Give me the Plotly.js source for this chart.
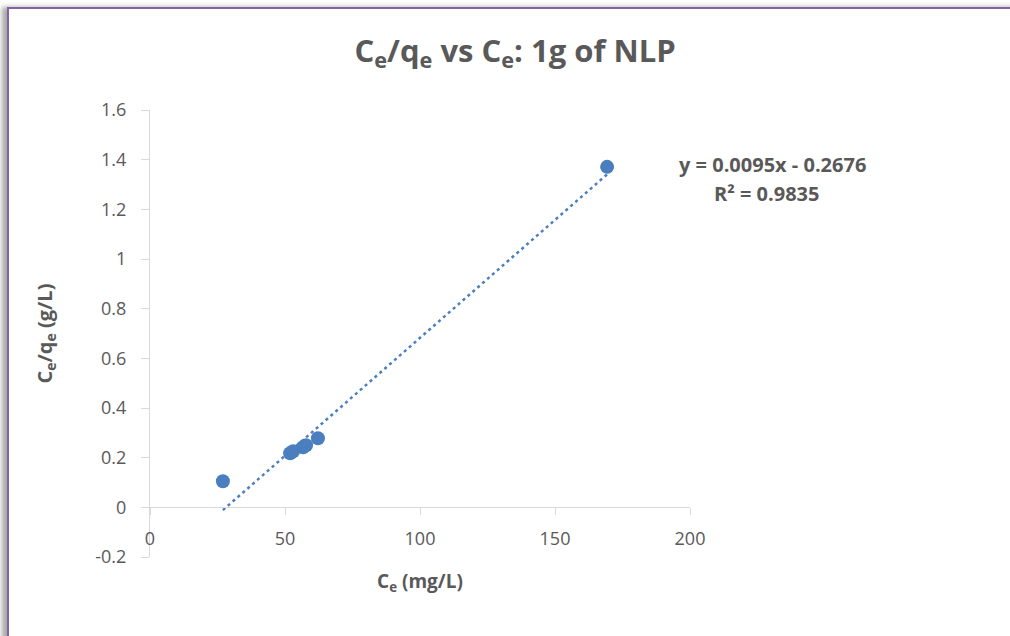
<!DOCTYPE html>
<html>
<head>
<meta charset="utf-8">
<script src="https://cdn.plot.ly/plotly-3.0.1.min.js"></script>
<style>
  html, body { margin: 0; padding: 0; background: #ffffff; }
  #frame { position: absolute; left: 7px; top: 7px; width: 1100px; height: 700px;
           border-top: 2px solid #8064a2; border-left: 2px solid #8064a2;
           box-shadow: -5px 0px 5px rgba(0,0,0,0.35); background: #ffffff; }
  #chart { position: absolute; left: 0; top: 0; width: 1010px; height: 636px; }
</style>
</head>
<body>
<div id="frame"></div>
<div id="chart"></div>
<script>
// Data
const ce   = [27.0, 51.9, 53.0, 56.7, 57.8, 62.2, 169.3];      // Ce (mg/L)
const ceqe = [0.105, 0.218, 0.226, 0.242, 0.250, 0.278, 1.371]; // Ce/qe (g/L)
// Trendline coefficients as printed on the chart
const slope = 0.0095;
const intercept = -0.2676;
const r2 = 0.9835;
const xTicks = [0, 50, 100, 150, 200];
const yTicks = [-0.2, 0, 0.2, 0.4, 0.6, 0.8, 1, 1.2, 1.4, 1.6];

const xMin = Math.min(...ce), xMax = Math.max(...ce);
const trendX = [xMin, xMax];
const trendY = trendX.map(x => slope * x + intercept);

const blue = '#4a7ebf';
const gray = '#595959';
const axisGray = '#d9d9d9';
const font = '"Open Sans", Lato, sans-serif';

const traces = [
  { x: trendX, y: trendY, type: 'scatter', mode: 'lines',
    line: { color: blue, width: 2.5, dash: '3px,3.5px' }, hoverinfo: 'skip', showlegend: false },
  { x: ce, y: ceqe, type: 'scatter', mode: 'markers',
    marker: { color: blue, size: 14 }, showlegend: false }
];

const layout = {
  width: 1010, height: 636,
  paper_bgcolor: 'rgba(0,0,0,0)', plot_bgcolor: 'rgba(0,0,0,0)',
  margin: { l: 150, r: 320, t: 110, b: 79 },
  font: { family: font, color: gray, size: 18 },
  title: { text: '<b>C<sub>e</sub>/q<sub>e</sub> vs C<sub>e</sub>: 1g of NLP</b>',
           font: { family: font, size: 31, color: gray }, x: 0.51, xanchor: 'center', y: 0.92, yanchor: 'middle' },
  xaxis: {
    range: [0, 200], tickvals: xTicks, ticktext: xTicks.map(String),
    showgrid: false, zeroline: false, showline: true, linecolor: axisGray, linewidth: 1,
    anchor: 'free', position: 0.2 / 1.8,
    ticks: 'outside', ticklen: 7, tickcolor: axisGray, ticklabelstandoff: 8,
    tickfont: { size: 18, color: gray },
    title: { text: '<b>C<sub>e</sub> (mg/L)</b>', font: { size: 19, color: gray }, standoff: 25 }
  },
  yaxis: {
    range: [-0.2, 1.6], tickvals: yTicks, ticktext: yTicks.map(v => String(v)),
    showgrid: false, zeroline: false, showline: true, linecolor: axisGray, linewidth: 1,
    ticks: 'outside', ticklen: 8, tickcolor: axisGray, ticklabelstandoff: 11,
    tickfont: { size: 18, color: gray },
    title: { text: '<b>C<sub>e</sub>/q<sub>e</sub> (g/L)</b>', font: { size: 20, color: gray }, standoff: 37 }
  },
  annotations: [
    { xref: 'paper', yref: 'paper', x: 1.152, y: 0.877, xanchor: 'center', yanchor: 'middle',
      text: '<b>y = ' + slope.toFixed(4) + 'x - ' + Math.abs(intercept).toFixed(4) + '</b>',
      showarrow: false, font: { size: 20, color: gray } },
    { xref: 'paper', yref: 'paper', x: 1.143, y: 0.814, xanchor: 'center', yanchor: 'middle',
      text: '<b>R² = ' + r2.toFixed(4) + '</b>',
      showarrow: false, font: { size: 20, color: gray } }
  ]
};

Plotly.newPlot('chart', traces, layout, { displayModeBar: false, staticPlot: true });
</script>
</body>
</html>
